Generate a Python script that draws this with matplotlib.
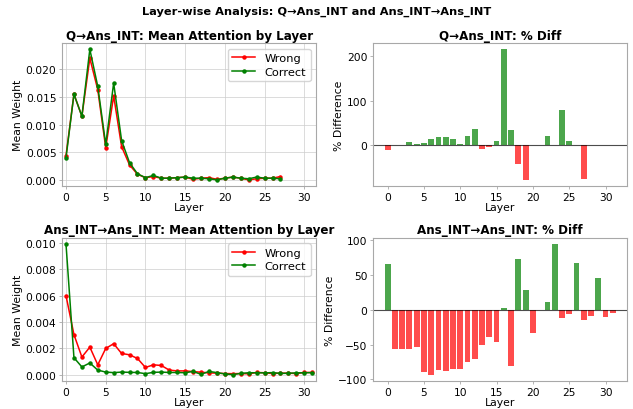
import numpy as np
import matplotlib
matplotlib.use("Agg")
import matplotlib.pyplot as plt

# =========================================================
# Data
# =========================================================
LAYERS = list(range(32))

# Q -> Ans_INT mean attention (28 layers)
q_wrong = [0.0044, 0.0155, 0.0115, 0.0220, 0.0163, 0.0058, 0.0152, 0.0060,
           0.0027, 0.0010, 0.0004, 0.0006, 0.0003, 0.0003, 0.0004, 0.0005,
           0.0001, 0.0003, 0.0004, 0.0001, 0.0003, 0.0005, 0.0003, 0.0000,
           0.0002, 0.0003, 0.0003, 0.0006]
q_correct = [0.0040, 0.0155, 0.0115, 0.0236, 0.0169, 0.0064, 0.0175, 0.0071,
             0.0031, 0.0011, 0.0004, 0.0008, 0.0003, 0.0003, 0.0004, 0.0005,
             0.0003, 0.0003, 0.0002, 0.0000, 0.0003, 0.0005, 0.0003, 0.0002,
             0.0005, 0.0003, 0.0003, 0.0002]
# % diff (nan = not drawn)
q_pct = [-10, np.nan, np.nan, 7, 3.5, 6, 13.5, 19, 18, 13.5, 4, 22, 37, -8,
         -4.5, 11, 215, 34, -42, -77, np.nan, np.nan, 22, np.nan, 79, 11,
         np.nan, -74, np.nan, np.nan, np.nan, np.nan]

# Ans_INT -> Ans_INT mean attention (32 layers)
a_wrong = [0.0060, 0.00305, 0.00135, 0.0021, 0.00076, 0.0020, 0.00236, 0.00162,
           0.00152, 0.00124, 0.00056, 0.00076, 0.00071, 0.00036, 0.00030, 0.00030,
           0.00025, 0.00020, 0.00015, 0.00013, 0.00010, 0.00009, 0.00010, 0.00008,
           0.00018, 0.00016, 0.00010, 0.00013, 0.00013, 0.00010, 0.00018, 0.00018]
a_correct = [0.0099, 0.0013, 0.0006, 0.0009, 0.00036, 0.00021, 0.00017, 0.00021,
             0.00019, 0.00018, 0.00009, 0.00019, 0.00021, 0.00018, 0.00018, 0.00016,
             0.00026, 0.00004, 0.00026, 0.00017, 0.00007, 0.00002, 0.00011, 0.00016,
             0.00016, 0.00015, 0.00017, 0.00011, 0.00012, 0.00015, 0.00016, 0.00017]
a_pct = [65, -57, -56, -57, -53, -89.5, -93, -87, -87.5, -85.5, -84.5, -75,
         -70.5, -51, -39.5, -46.5, 2.5, -81, 72.5, 28.5, -34, np.nan, 10.5,
         94, -12, -6.5, 67, -14.5, -8.5, 46, -11, -5]

# =========================================================
# Style
# =========================================================
TICK_FS = 7.7
LABEL_FS = 7.8
LEGEND_FS = 8.2
TITLE_FS = 8.6
SUPTITLE_FS = 8.2
SPINE_COLOR = "#a8a8a8"


def style_axes(ax, grid):
    for sp in ax.spines.values():
        sp.set_color(SPINE_COLOR)
        sp.set_linewidth(0.8)
    ax.tick_params(labelsize=TICK_FS, length=2.5, width=0.6, pad=1.5,
                   color=SPINE_COLOR)
    if grid:
        ax.grid(True, color="#cccccc", linewidth=0.6, alpha=0.8)
        ax.set_axisbelow(True)


def plot_lines(ax, wrong, correct, title):
    xw = np.arange(len(wrong))
    xc = np.arange(len(correct))
    ax.plot(xw, wrong, "o-", color="red", label="Wrong",
            linewidth=1.1, markersize=2.2)
    ax.plot(xc, correct, "o-", color="green", label="Correct",
            linewidth=1.1, markersize=2.2)
    ax.set_title(title, fontsize=TITLE_FS, fontweight="bold", pad=3)
    ax.set_xlabel("Layer", fontsize=LABEL_FS, labelpad=0)
    ax.set_ylabel("Mean Weight", fontsize=LABEL_FS, labelpad=2)
    ax.set_xlim(-0.5, 31.5)
    ax.set_xticks([0, 5, 10, 15, 20, 25, 30])
    ax.legend(loc="upper right", fontsize=LEGEND_FS, handlelength=2.0,
              borderpad=0.4, labelspacing=0.3)
    style_axes(ax, grid=True)


def plot_bars(ax, pct, title):
    pct = np.array(pct, dtype=float)
    colors = ["green" if v >= 0 else "red" for v in np.nan_to_num(pct)]
    ax.bar(LAYERS, np.nan_to_num(pct), color=colors, alpha=0.7, width=0.8)
    ax.axhline(0, color="black", linewidth=0.8, alpha=0.7)
    ax.set_title(title, fontsize=TITLE_FS, fontweight="bold", pad=3)
    ax.set_xlabel("Layer", fontsize=LABEL_FS, labelpad=0)
    ax.set_ylabel("% Difference", fontsize=LABEL_FS, labelpad=2)
    ax.set_xticks([0, 5, 10, 15, 20, 25, 30])
    style_axes(ax, grid=False)


fig, axes = plt.subplots(2, 2, figsize=(6.33, 4.10), dpi=100)
fig.subplots_adjust(left=0.098, right=0.991, top=0.893, bottom=0.068,
                    wspace=0.224, hspace=0.357)

plot_lines(axes[0, 0], q_wrong, q_correct, "Q→Ans_INT: Mean Attention by Layer")
plot_bars(axes[0, 1], q_pct, "Q→Ans_INT: % Diff")
plot_lines(axes[1, 0], a_wrong, a_correct, "Ans_INT→Ans_INT: Mean Attention by Layer")
plot_bars(axes[1, 1], a_pct, "Ans_INT→Ans_INT: % Diff")

fig.suptitle("Layer-wise Analysis: Q→Ans_INT and Ans_INT→Ans_INT",
             fontsize=SUPTITLE_FS, fontweight="bold", y=0.984, va="top")

fig.savefig("out.png", dpi=100)
